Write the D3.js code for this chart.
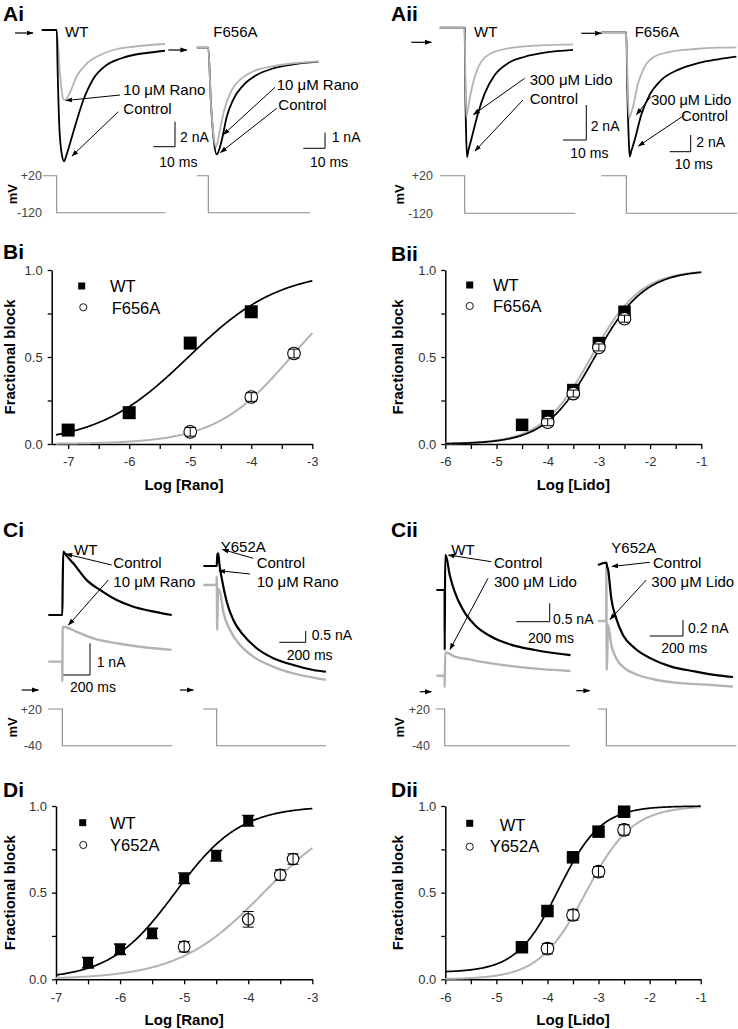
<!DOCTYPE html>
<html><head><meta charset="utf-8">
<script src="https://cdn.jsdelivr.net/npm/d3@7"></script>
<style>body{margin:0;background:#fff}svg{display:block}</style>
</head><body>
<script>
// ================= DATA =================
// Dose-response: log concentration and fractional block
const biConc = [-7, -6, -5, -4];
const biWT = [0.08, 0.18, 0.58, 0.76];
const biMutConc = [-5, -4, -3.3];
const biMut = [0.07, 0.27, 0.52];
const biMutErr = [0.025, 0.025, 0.025];

const biiConc = [-4.5, -4, -3.5, -3, -2.5];
const biiWT = [0.11, 0.16, 0.31, 0.58, 0.76];
const biiMutConc = [-4, -3.5, -3, -2.5];
const biiMut = [0.125, 0.29, 0.555, 0.72];
const biiMutErr = [0.02, 0.02, 0.02, 0.02];

const diConc = [-6.5, -6, -5.5, -5, -4.5, -4];
const diWT = [0.096, 0.173, 0.265, 0.583, 0.713, 0.915];
const diWTErr = [0.03, 0.03, 0.03, 0.03, 0.03, 0.03];
const diMutConc = [-5, -4, -3.5, -3.3];
const diMut = [0.188, 0.346, 0.602, 0.694];
const diMutErr = [0.03, 0.045, 0.03, 0.03];

const diiConc = [-4.5, -4, -3.5, -3, -2.5];
const diiWT = [0.185, 0.394, 0.704, 0.852, 0.967];
const diiMutConc = [-4, -3.5, -3, -2.5];
const diiMut = [0.177, 0.371, 0.621, 0.862];
const diiMutErr = [0.03, 0.03, 0.03, 0.03];

// Hill fits: [log IC50, Hill slope, bottom]
const fitBiWT = [-5.03, 0.58, 0];
const fitBiMut = [-3.35, 0.70, 0];
const fitBiiWT = [-3.08, 0.9, 0];
const fitBiiMut = [-3.15, 0.9, 0];
const fitDiWT = [-5.14, 0.855, 0];
const fitDiMut = [-3.76, 0.65, 0];
const fitDiiWT = [-3.78, 1.05, 0.04];
const fitDiiMut = [-3.25, 0.95, 0];

const xTicksRano = [-7, -6.5, -6, -5.5, -5, -4.5, -4, -3.5, -3];
const xTicksLido = [-6, -5.5, -5, -4.5, -4, -3.5, -3, -2.5, -2, -1.5, -1];
const yTicks = [0, 0.25, 0.5, 0.75, 1];

// Current traces [time ms, current nA]
const aiWtCtrl = [[-6.9,0],[0,0],[0.4,-3],[1.2,-7.7],[2.4,-10],[3.4,-10.5],[4.5,-10],[7.6,-8.2],[12.3,-5.6],[16.9,-3.9],[23,-2.8],[29.2,-2.3],[35.3,-2.0],[43,-1.8],[49.9,-1.66]];
const aiWtDrug = [[-6.9,0],[0,0],[1.5,-3.5],[3.0,-5.5],[3.8,-5.6],[6.1,-5.0],[9.2,-3.7],[13.8,-2.7],[20,-2.0],[27.6,-1.54],[35.3,-1.34],[43,-1.2],[49.9,-1.12]];
const aiMutCtrl = [[-5.3,0],[0,0],[1.2,-3.5],[2.6,-6.0],[3.9,-6.8],[5.0,-6.5],[6.2,-5.9],[8.5,-4.4],[11.5,-3.3],[16.1,-2.4],[22.3,-1.74],[30,-1.31],[39.2,-1.06],[50.7,-0.89]];
const aiMutDrug = [[-5.3,0],[0,0],[1.2,-3.5],[2.6,-5.8],[3.5,-6.3],[4.3,-6.0],[5.4,-5.2],[7.7,-3.8],[10.8,-2.7],[15.4,-1.95],[21.5,-1.46],[30,-1.17],[39.2,-0.99],[50.7,-0.87]];
const aiiWtCtrl = [[-10.7,0],[0,0],[0.2,-3],[0.6,-6],[1.0,-7.4],[1.6,-7.0],[2.8,-6.4],[5.7,-4.9],[8.6,-3.75],[12.9,-2.7],[18.6,-2.03],[25.8,-1.66],[34.3,-1.43],[46.5,-1.27]];
const aiiWtDrug = [[-10.7,0],[0,0],[0.3,-3],[0.7,-5.1],[1.2,-4.8],[2.1,-4.1],[4.3,-2.8],[7.1,-1.94],[11.4,-1.46],[18.6,-1.18],[27.2,-1.05],[35.8,-0.99],[46.5,-0.95]];
const aiiMutCtrl = [[-11.9,0],[0,0],[0.5,-7],[1.2,-13],[1.6,-14.9],[2.4,-14.2],[4.0,-12.9],[7.1,-9.9],[11.1,-7.5],[16.7,-5.7],[24.6,-4.5],[34.1,-3.7],[43.7,-3.23],[52.4,-2.92]];
const aiiMutDrug = [[-11.9,0],[0,0],[0.6,-6],[1.3,-10.3],[2.0,-9.9],[3.2,-8.9],[5.6,-6.1],[8.8,-4.1],[13.5,-2.9],[21.4,-2.32],[32.6,-2.0],[43.7,-1.84],[52.4,-1.8]];

const ciWtCtrl = [[-105,0],[0,0],[3,1.0],[7.5,2.0],[30,1.88],[82.5,1.63],[183,1.10],[283,0.79],[408,0.47],[533,0.26],[658,0.13],[821,0.0]];
const ciWtDrug = [[-105,-1.47],[-0.5,-1.47],[0,-2.1],[3,-0.37],[7.5,-0.37],[108,-0.53],[233,-0.74],[408,-0.89],[583,-1.0],[821,-1.10]];
const ciMutCtrl = [[-101,0],[0,0],[5,0.5],[12,0.56],[20,0.1],[38,-0.54],[76,-1.58],[126,-2.39],[201,-3.05],[303,-3.64],[429,-4.08],[580,-4.38],[732,-4.6],[828,-4.68]];
const ciMutDrug = [[-101,-0.84],[-0.5,-0.84],[0,-0.47],[4,-2.83],[10,-1.0],[25,-1.14],[50,-2.02],[101,-2.83],[177,-3.5],[277,-4.01],[429,-4.46],[580,-4.75],[732,-4.94],[828,-5.04]];
const ciiWtCtrl = [[-50,0],[-0.5,0],[0,-1.63],[3,0.95],[6,0.95],[30,0.41],[60,-0.05],[110,-0.54],[180,-0.95],[280,-1.27],[400,-1.49],[540,-1.63],[753,-1.77]];
const ciiWtDrug = [[-50,-2.33],[-0.5,-2.33],[0,-2.64],[3,-1.70],[6,-1.70],[60,-1.81],[140,-1.88],[259,-1.98],[400,-2.07],[580,-2.15],[753,-2.20]];
const ciiMutCtrl = [[-50,0],[0,0.03],[5,-0.02],[10,-0.05],[30,-0.42],[60,-0.67],[100,-0.875],[171,-1.04],[270,-1.17],[390,-1.27],[531,-1.33],[671,-1.38],[761,-1.40]];
const ciiMutDrug = [[-50,-0.70],[-0.5,-0.70],[0,-0.02],[3,-1.31],[10,-0.75],[30,-1.0],[60,-1.17],[110,-1.29],[190,-1.375],[311,-1.44],[471,-1.48],[631,-1.50],[761,-1.52]];

// Voltage protocols [time ms, mV]
const protoAiWT = [[-6.2,20],[0,20],[0,-120],[50,-120]];
const protoAiMut = [[-5.3,20],[0,20],[0,-120],[46.9,-120]];
const protoAiiWT = [[-10.7,20],[0,20],[0,-120],[47.5,-120]];
const protoAiiMut = [[-11.9,20],[0,20],[0,-120],[52.8,-120]];
const protoCiWT = [[-105,20],[0,20],[0,-40],[825,-40]];
const protoCiMut = [[-101,20],[0,20],[0,-40],[828,-40]];
const protoCiiWT = [[-54,20],[0,20],[0,-40],[749,-40]];
const protoCiiMut = [[-50,20],[0,20],[0,-40],[781,-40]];

// ================= DRAWING =================
const FONT = '"Liberation Sans", Arial, Helvetica, sans-serif';
const GRAY = "#b3b3b3";
const svg = d3.select("body").append("svg").attr("width", 738).attr("height", 1029)
  .style("font-family", FONT);
const defs = svg.append("defs");
defs.append("marker").attr("id", "ah").attr("viewBox", "0 0 10 10")
  .attr("refX", 9).attr("refY", 5).attr("markerWidth", 7).attr("markerHeight", 7)
  .attr("markerUnits", "userSpaceOnUse").attr("orient", "auto")
  .append("path").attr("d", "M0,1.5L10,5L0,8.5Z").attr("fill", "#000");

function txt(x, y, s, o = {}) {
  return svg.append("text").attr("x", x).attr("y", y).text(s)
    .attr("font-size", o.size || 15)
    .attr("font-weight", o.bold ? "bold" : null)
    .attr("fill", o.fill || "#000")
    .attr("text-anchor", o.anchor || "start");
}
function arrow(x1, y1, x2, y2, w = 1) {
  svg.append("line").attr("x1", x1).attr("y1", y1).attr("x2", x2).attr("y2", y2)
    .attr("stroke", "#000").attr("stroke-width", w).attr("marker-end", "url(#ah)");
}

// panel letters
[["Ai",3,21],["Aii",391,21],["Bi",3,259],["Bii",391,261],["Ci",3,537],["Cii",391,537],["Di",3,797],["Dii",391,797]]
  .forEach(d => txt(d[1], d[2], d[0], {size: 21, bold: true}));

function tracePanel(c) {
  const x = d3.scaleLinear().domain([0, 1]).range([c.x0, c.x0 + c.msPx]);
  const y = d3.scaleLinear().domain([0, 1]).range([c.y0, c.y0 - c.naPx]);
  const line = d3.line().x(d => x(d[0])).y(d => y(d[1])).curve(d3.curveMonotoneX);
  c.traces.forEach(t => svg.append("path").attr("d", line(t.data)).attr("fill", "none")
    .attr("stroke", t.color).attr("stroke-width", t.w || 1.8).attr("stroke-linejoin", "round"));
  // scale bar
  const hx = x(c.barT) - x(0), vy = y(0) - y(c.barI);
  const [cx, cy] = c.bar;
  svg.append("path").attr("d", `M${cx - hx},${cy}H${cx}V${cy - vy}`).attr("fill", "none")
    .attr("stroke", "#000").attr("stroke-width", 1);
  // protocol
  const v = d3.scaleLinear().domain(c.vDom).range(c.vRange);
  svg.append("path").attr("d", d3.line().x(d => x(d[0])).y(d => v(d[1]))(c.proto))
    .attr("fill", "none").attr("stroke", "#8a8a8a").attr("stroke-width", 1.1);
  if (c.vLabels) {
    c.vLabels.values.forEach(val => txt(c.vLabels.x, v(val) + 4.5, (val > 0 ? "+" : "") + val,
      {size: 12.5, anchor: "end", fill: "#444"}));
    svg.append("text").attr("transform", `translate(${c.vLabels.mvX},${v((c.vDom[0] + c.vDom[1]) / 2)}) rotate(-90)`)
      .attr("text-anchor", "middle").attr("font-size", 13).attr("font-weight", "bold").text("mV");
  }
}

// ---- A panels ----
tracePanel({x0: 56.7, msPx: 2.17, y0: 30, naPx: 12.5,
  traces: [{data: aiWtDrug, color: GRAY}, {data: aiWtCtrl, color: "#000"}],
  barT: 10, barI: 2, bar: [175, 146.7],
  proto: protoAiWT, vDom: [-120, 20], vRange: [212.7, 175.7],
  vLabels: {values: [20, -120], x: 42, mvX: 17}});
tracePanel({x0: 208.3, msPx: 2.17, y0: 47.7, naPx: 15.7,
  traces: [{data: aiMutCtrl, color: "#000"}, {data: aiMutDrug, color: GRAY}],
  barT: 10, barI: 1, bar: [325, 148.3],
  proto: protoAiMut, vDom: [-120, 20], vRange: [212.7, 175.7]});
tracePanel({x0: 464.7, msPx: 2.33, y0: 27.7, naPx: 17.5,
  traces: [{data: aiiWtCtrl, color: "#000"}, {data: aiiWtDrug, color: GRAY}],
  barT: 10, barI: 2, bar: [586.3, 140],
  proto: protoAiiWT, vDom: [-120, 20], vRange: [213.3, 175.7],
  vLabels: {values: [20, -120], x: 433, mvX: 404}});
tracePanel({x0: 626.3, msPx: 2.1, y0: 32.3, naPx: 8.35,
  traces: [{data: aiiMutCtrl, color: "#000"}, {data: aiiMutDrug, color: GRAY}],
  barT: 10, barI: 2, bar: [690.7, 151.7],
  proto: protoAiiMut, vDom: [-120, 20], vRange: [213.3, 175.7]});

// A annotations
arrow(15, 33, 33, 33, 1.2); txt(65, 37, "WT");
txt(123.3, 94.5, "10 μM Rano"); txt(123.3, 113.5, "Control");
arrow(120, 95, 66, 100.5); arrow(118.3, 111.7, 72, 156);
txt(180, 142, "2 nA", {size: 14}); txt(159.3, 167, "10 ms", {size: 14});
arrow(168.3, 50, 186.7, 50, 1.2); txt(213.3, 37, "F656A");
txt(276.7, 90, "10 μM Rano"); txt(278.3, 110, "Control");
arrow(275, 87.3, 223.5, 134.5); arrow(276.7, 108.3, 220.5, 152.5);
txt(331.7, 142, "1 nA", {size: 14}); txt(310, 167, "10 ms", {size: 14});

arrow(411.3, 42.3, 431.3, 42.3, 1.2); txt(474, 37, "WT");
txt(529.7, 85, "300 μM Lido"); txt(529.7, 103.5, "Control");
arrow(524.7, 78.3, 473.5, 114.5); arrow(523, 100, 475, 151);
txt(590.7, 131, "2 nA", {size: 14}); txt(570.3, 157.5, "10 ms", {size: 14});
arrow(581.3, 33.3, 601.3, 33.3, 1.2); txt(634.7, 37, "F656A");
txt(651.3, 105, "300 μM Lido", {size: 14.5}); txt(681.3, 121, "Control", {size: 14.5});
arrow(651, 96.5, 636.5, 114.5); arrow(684.7, 115, 638.5, 146);
txt(696.3, 147, "2 nA", {size: 14}); txt(674.7, 168.5, "10 ms", {size: 14});

// ---- C panels ----
tracePanel({x0: 62.3, msPx: 0.1333, y0: 615, naPx: 31.7,
  traces: [{data: ciWtDrug, color: GRAY, w: 2.4}, {data: ciWtCtrl, color: "#000", w: 2.2}],
  barT: 200, barI: 1, bar: [90, 675],
  proto: protoCiWT, vDom: [-40, 20], vRange: [745.7, 709],
  vLabels: {values: [20, -40], x: 42, mvX: 17}});
tracePanel({x0: 216.7, msPx: 0.132, y0: 566, naPx: 22.6,
  traces: [{data: ciMutDrug, color: GRAY, w: 2.4}, {data: ciMutCtrl, color: "#000", w: 2.2}],
  barT: 200, barI: 0.5, bar: [305.7, 642.3],
  proto: protoCiMut, vDom: [-40, 20], vRange: [745.7, 709]});
tracePanel({x0: 444.7, msPx: 0.167, y0: 590, naPx: 36.8,
  traces: [{data: ciiWtDrug, color: GRAY, w: 2.4}, {data: ciiWtCtrl, color: "#000", w: 2.2}],
  barT: 200, barI: 0.5, bar: [549.7, 621.7],
  proto: protoCiiWT, vDom: [-40, 20], vRange: [745.7, 709],
  vLabels: {values: [20, -40], x: 430, mvX: 404}});
tracePanel({x0: 606.3, msPx: 0.1665, y0: 565, naPx: 80,
  traces: [{data: ciiMutDrug, color: GRAY, w: 2.4}, {data: ciiMutCtrl, color: "#000", w: 2.2}],
  barT: 200, barI: 0.2, bar: [683, 636],
  proto: protoCiiMut, vDom: [-40, 20], vRange: [745.7, 709]});

// C annotations
txt(74, 555, "WT"); txt(113.3, 567.7, "Control"); txt(113.3, 586.7, "10 μM Rano");
arrow(111.7, 565, 66, 554); arrow(108.3, 580, 68.5, 625);
txt(96.7, 666.7, "1 nA", {size: 14}); txt(70, 692, "200 ms", {size: 14});
arrow(21.7, 690, 38.3, 690, 1.2);
txt(220.7, 552, "Y652A"); txt(256.7, 567.7, "Control"); txt(256.7, 586.7, "10 μM Rano");
arrow(253.3, 558.3, 222.5, 549.5); arrow(250, 574, 219, 570.7);
txt(311.7, 640, "0.5 nA", {size: 14}); txt(286.7, 660, "200 ms", {size: 14});
arrow(180, 690, 193.3, 690, 1.2);

txt(451.3, 555, "WT"); txt(494, 567.7, "Control"); txt(494, 586.7, "300 μM Lido");
arrow(491.3, 561.7, 448.5, 555); arrow(488, 578.3, 450, 649.5);
txt(553, 624.3, "0.5 nA", {size: 14}); txt(528, 643.3, "200 ms", {size: 14});
arrow(419.7, 691.7, 431.3, 691.7, 1.2);
txt(611.3, 553, "Y652A"); txt(653, 568.3, "Control"); txt(651.3, 586.7, "300 μM Lido");
arrow(649.7, 562.3, 612, 566.5); arrow(646.3, 580, 610, 619.5);
txt(688, 632.7, "0.2 nA", {size: 14}); txt(661.3, 653.3, "200 ms", {size: 14});
arrow(576.3, 690.7, 589.7, 690.7, 1.2);

// ---- dose-response panels ----
function hill(v, f) { return f[2] + (1 - f[2]) / (1 + Math.pow(10, f[1] * (f[0] - v))); }

function drPanel(p) {
  const x = d3.scaleLinear().domain(p.xDom).range(p.xRange);
  const y = d3.scaleLinear().domain([0, 1]).range(p.yRange);
  const gx = svg.append("g").attr("transform", `translate(0,${p.yRange[0]})`)
    .call(d3.axisBottom(x).tickValues(p.xTicks)
      .tickFormat(d => Number.isInteger(d) ? String(d) : "")
      .tickSize(5).tickSizeOuter(0).tickPadding(8));
  const gy = svg.append("g").attr("transform", `translate(${p.xRange[0]},0)`)
    .call(d3.axisLeft(y).tickValues(yTicks)
      .tickFormat(d => (d === 0 || d === 0.5 || d === 1) ? d.toFixed(1) : "")
      .tickSize(4).tickSizeOuter(0).tickPadding(5));
  [gx, gy].forEach(g => {
    g.attr("font-family", FONT).attr("font-size", 13);
    g.select(".domain").attr("stroke-width", 1.5);
    g.selectAll(".tick line").attr("stroke-width", 1.3);
    g.selectAll(".tick text").attr("fill", "#333");
  });
  // fits
  const line = d3.line().x(d => x(d[0])).y(d => y(d[1]));
  const grid = d3.range(p.curveDom[0], p.curveDom[1] + 1e-9, 0.02);
  svg.append("path").attr("d", line(grid.map(v => [v, hill(v, p.fitMut)])))
    .attr("fill", "none").attr("stroke", GRAY).attr("stroke-width", 2);
  svg.append("path").attr("d", line(grid.map(v => [v, hill(v, p.fitWT)])))
    .attr("fill", "none").attr("stroke", "#000").attr("stroke-width", 1.7);
  // WT points
  const s = p.sqSize;
  p.wtConc.forEach((c, i) => {
    if (p.wtErr) {
      const e = p.wtErr[i], cx = x(c);
      svg.append("path").attr("d",
        `M${cx},${y(p.wt[i] - e)}V${y(p.wt[i] + e)}M${cx - 6},${y(p.wt[i] - e)}h12M${cx - 6},${y(p.wt[i] + e)}h12`)
        .attr("stroke", "#000").attr("stroke-width", 1.6);
    }
    svg.append("rect").attr("x", x(c) - s / 2).attr("y", y(p.wt[i]) - s / 2)
      .attr("width", s).attr("height", s).attr("fill", "#000");
  });
  // mutant points
  p.mutConc.forEach((c, i) => {
    const cx = x(c), cy = y(p.mut[i]), e = p.mutErr[i];
    svg.append("circle").attr("cx", cx).attr("cy", cy).attr("r", p.r)
      .attr("fill", "#fff").attr("stroke", "#000").attr("stroke-width", 1.1);
    svg.append("path").attr("d",
      `M${cx},${y(p.mut[i] - e)}V${y(p.mut[i] + e)}M${cx - 5.5},${y(p.mut[i] - e)}h11M${cx - 5.5},${y(p.mut[i] + e)}h11`)
      .attr("stroke", "#000").attr("stroke-width", 1);
  });
  // titles
  txt((p.xRange[0] + p.xRange[1]) / 2 + p.xTitleShift, p.yRange[0] + 46, p.xTitle, {size: 15, bold: true, anchor: "middle"});
  svg.append("text").attr("transform", `translate(${p.yTitleX},${(p.yRange[0] + p.yRange[1]) / 2}) rotate(-90)`)
    .attr("text-anchor", "middle").attr("font-size", 15).attr("font-weight", "bold").text("Fractional block");
  // legend
  const L = p.legend;
  svg.append("rect").attr("x", L.sq[0] - 3.5).attr("y", L.sq[1] - 3.5).attr("width", 7).attr("height", 7).attr("fill", "#000");
  svg.append("circle").attr("cx", L.ci[0]).attr("cy", L.ci[1]).attr("r", 3.6).attr("fill", "#fff").attr("stroke", "#000").attr("stroke-width", 0.9);
  txt(L.t1[0], L.t1[1], "WT", {size: 16.5});
  txt(L.t2[0], L.t2[1], p.mutName, {size: 16.5});
}

drPanel({xDom: [-7.27, -3], xRange: [51.7, 312.3], yRange: [444, 270], xTicks: xTicksRano,
  curveDom: [-7.2, -3], fitWT: fitBiWT, fitMut: fitBiMut,
  wtConc: biConc, wt: biWT, mutConc: biMutConc, mut: biMut, mutErr: biMutErr,
  sqSize: 13, r: 6.3, xTitle: "Log [Rano]", xTitleShift: 2, yTitleX: 15, mutName: "F656A",
  legend: {sq: [81.7, 286], ci: [83.3, 307.3], t1: [110, 291.7], t2: [111.7, 313.5]}});
drPanel({xDom: [-6, -1], xRange: [445.3, 701.3], yRange: [444, 270], xTicks: xTicksLido,
  curveDom: [-6, -1], fitWT: fitBiiWT, fitMut: fitBiiMut,
  wtConc: biiConc, wt: biiWT, mutConc: biiMutConc, mut: biiMut, mutErr: biiMutErr,
  sqSize: 12.5, r: 6.3, xTitle: "Log [Lido]", xTitleShift: 0, yTitleX: 403, mutName: "F656A",
  legend: {sq: [469.7, 285], ci: [469.7, 306], t1: [493, 291], t2: [493, 312.3]}});
drPanel({xDom: [-7, -3], xRange: [56, 312.3], yRange: [979.3, 806], xTicks: xTicksRano,
  curveDom: [-7, -3], fitWT: fitDiWT, fitMut: fitDiMut,
  wtConc: diConc, wt: diWT, wtErr: diWTErr, mutConc: diMutConc, mut: diMut, mutErr: diMutErr,
  sqSize: 10, r: 5.8, xTitle: "Log [Rano]", xTitleShift: 0, yTitleX: 15, mutName: "Y652A",
  legend: {sq: [82.7, 822.7], ci: [83.3, 845], t1: [110, 829.3], t2: [110, 851]}});
drPanel({xDom: [-6, -1], xRange: [445.3, 700.7], yRange: [979.3, 806], xTicks: xTicksLido,
  curveDom: [-6, -1], fitWT: fitDiiWT, fitMut: fitDiiMut,
  wtConc: diiConc, wt: diiWT, mutConc: diiMutConc, mut: diiMut, mutErr: diiMutErr,
  sqSize: 12.5, r: 6.3, xTitle: "Log [Lido]", xTitleShift: 0, yTitleX: 403, mutName: "Y652A",
  legend: {sq: [469.7, 823.3], ci: [469.7, 846.7], t1: [499.7, 830.7], t2: [489.7, 852]}});
</script>
</body></html>
